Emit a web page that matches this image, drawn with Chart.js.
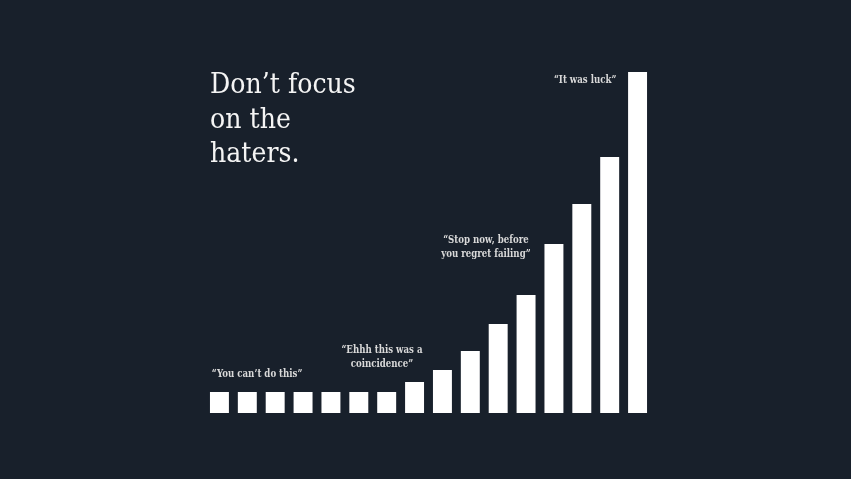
<!DOCTYPE html>
<html>
<head>
<meta charset="utf-8">
<script src="https://cdn.jsdelivr.net/npm/chart.js@4"></script>
<style>
html,body{margin:0;padding:0;background:#18202b;}
#wrap{position:relative;width:851px;height:479px;}
canvas{display:block;}
</style>
</head>
<body>
<div id="wrap"><canvas id="c" width="851" height="479"></canvas></div>
<script>
const categories = ["1","2","3","4","5","6","7","8","9","10","11","12","13","14","15","16"];
const values = [21,21,21,21,21,21,21,31,43,62,89,118,169,209,256,341];
const titleLines = ["Don\u2019t focus","on the","haters."];
const noteLines = [
  ["\u201cYou can\u2019t do this\u201d"],
  ["\u201cEhhh this was a","coincidence\u201d"],
  ["\u201cStop now, before","you regret failing\u201d"],
  ["\u201cIt was luck\u201d"]
];
const noteIndex = [1.35, 5.83, 9.56, 13.12];
const noteValue = [39, 63, 173, 333];

function drawScaled(ctx, text, x, y, sx) {
  ctx.save();
  ctx.translate(x, y);
  ctx.scale(sx, 1);
  ctx.fillText(text, 0, 0);
  ctx.restore();
}

const textPlugin = {
  id: 'texts',
  afterDatasetsDraw(chart) {
    const ctx = chart.ctx;
    const x = chart.scales.x, y = chart.scales.y;
    ctx.save();
    ctx.fillStyle = '#f4f4f4';
    ctx.font = '27px "DejaVu Serif"';
    ctx.textAlign = 'left';
    ctx.textBaseline = 'alphabetic';
    titleLines.forEach((t, i) => {
      drawScaled(ctx, t, 210, 93 + i * 34.5, 0.935);
    });
    ctx.fillStyle = '#d9d9d9';
    ctx.font = 'bold 10.5px "DejaVu Serif"';
    ctx.textAlign = 'center';
    ctx.textBaseline = 'middle';
    noteLines.forEach((lines, k) => {
      const cx = x.getPixelForValue(noteIndex[k]);
      const cy = y.getPixelForValue(noteValue[k]);
      lines.forEach((t, i) => {
        drawScaled(ctx, t, cx, cy + i * 14.5, 0.82);
      });
    });
    ctx.restore();
  }
};

new Chart(document.getElementById('c'), {
  type: 'bar',
  data: {
    labels: categories,
    datasets: [{
      data: values,
      backgroundColor: '#ffffff',
      borderWidth: 0,
      barPercentage: 0.68,
      categoryPercentage: 1.0
    }]
  },
  options: {
    responsive: false,
    animation: false,
    layout: {padding: {left: 205.5, right: 199.5, top: 72, bottom: 66}},
    plugins: {legend: {display: false}, tooltip: {enabled: false}},
    scales: {
      x: {display: false},
      y: {display: false, min: 0, max: 341}
    }
  },
  plugins: [textPlugin]
});
</script>
</body>
</html>
